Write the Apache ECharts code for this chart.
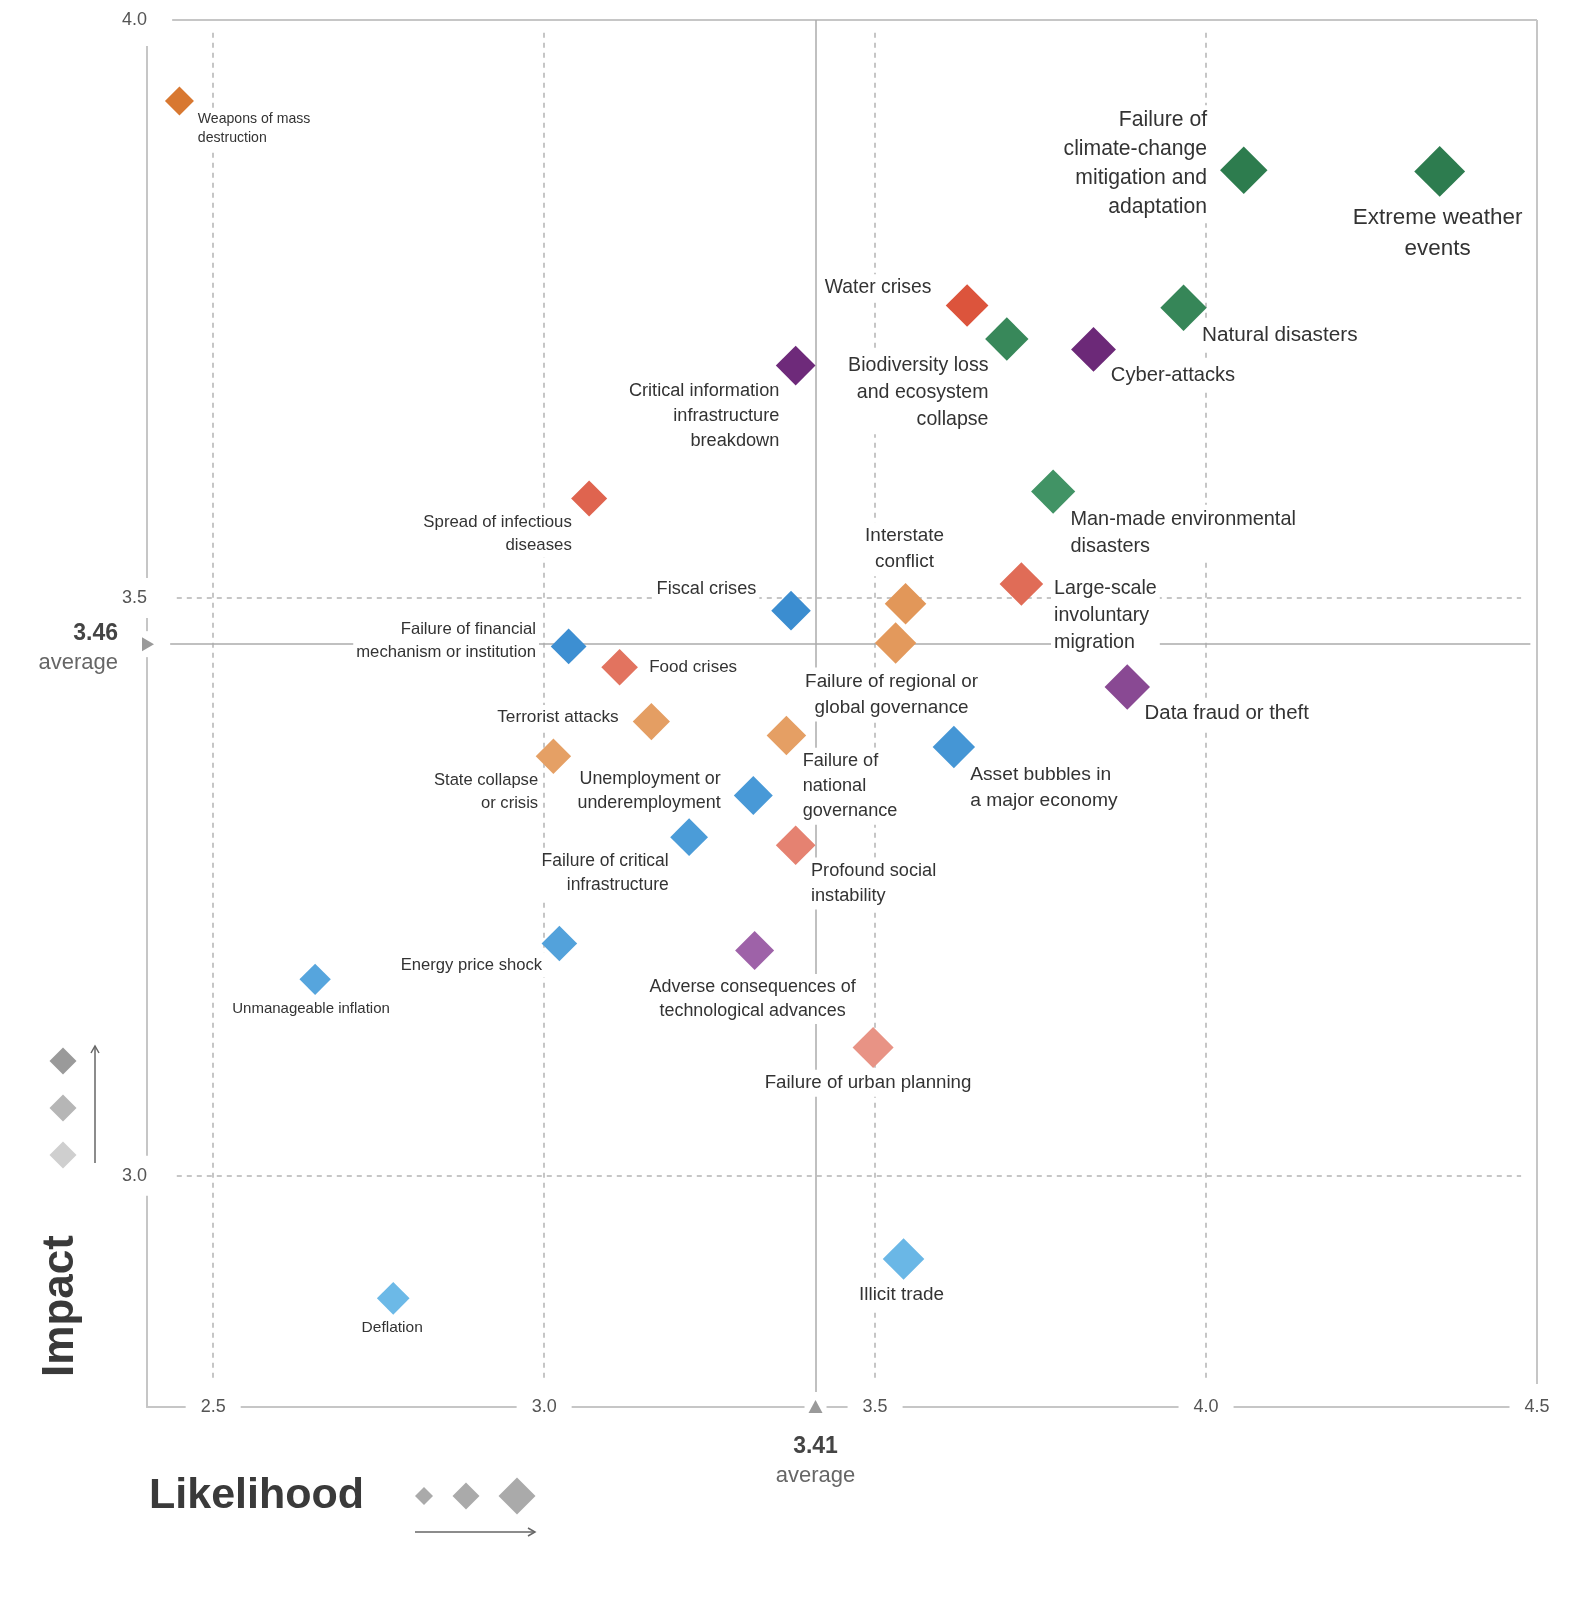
<!DOCTYPE html>
<html>
<head>
<meta charset="utf-8">
<title>Global risks landscape</title>
<script src="https://cdn.jsdelivr.net/npm/echarts@6/dist/echarts.min.js"></script>
<style>
  html, body { margin: 0; padding: 0; background: #fff; }
  #chart { width: 1584px; height: 1600px; }
</style>
</head>
<body>
<div id="chart"></div>
<script>
// risk labels, in the same order as the value arrays below
const risks = [
  'Weapons of mass\ndestruction',
  'Failure of\nclimate-change\nmitigation and\nadaptation',
  'Extreme weather\nevents',
  'Water crises',
  'Natural disasters',
  'Biodiversity loss\nand ecosystem\ncollapse',
  'Cyber-attacks',
  'Critical information\ninfrastructure\nbreakdown',
  'Man-made environmental\ndisasters',
  'Spread of infectious\ndiseases',
  'Large-scale\ninvoluntary\nmigration',
  'Interstate\nconflict',
  'Fiscal crises',
  'Failure of regional or\nglobal governance',
  'Failure of financial\nmechanism or institution',
  'Food crises',
  'Data fraud or theft',
  'Terrorist attacks',
  'Failure of\nnational\ngovernance',
  'Asset bubbles in\na major economy',
  'State collapse\nor crisis',
  'Unemployment or\nunderemployment',
  'Failure of critical\ninfrastructure',
  'Profound social\ninstability',
  'Energy price shock',
  'Adverse consequences of\ntechnological advances',
  'Unmanageable inflation',
  'Failure of urban planning',
  'Illicit trade',
  'Deflation'
];
const categories = [
  'Geopolitical', 'Environmental', 'Environmental', 'Societal', 'Environmental',
  'Environmental', 'Technological', 'Technological', 'Environmental', 'Societal',
  'Societal', 'Geopolitical', 'Economic', 'Geopolitical', 'Economic',
  'Societal', 'Technological', 'Geopolitical', 'Geopolitical', 'Economic',
  'Geopolitical', 'Economic', 'Economic', 'Societal', 'Economic',
  'Technological', 'Economic', 'Societal', 'Economic', 'Economic'
];
const likelihood = [
  2.449, 4.057, 4.353, 3.639, 3.966, 3.699, 3.830, 3.380, 3.769, 3.068,
  3.721, 3.546, 3.373, 3.531, 3.037, 3.114, 3.881, 3.162, 3.366, 3.619,
  3.014, 3.316, 3.219, 3.380, 3.023, 3.318, 2.654, 3.497, 3.543, 2.772
];
const impact = [
  3.930, 3.870, 3.869, 3.753, 3.751, 3.724, 3.715, 3.701, 3.592, 3.586,
  3.512, 3.495, 3.489, 3.461, 3.458, 3.440, 3.423, 3.393, 3.381, 3.371,
  3.363, 3.329, 3.293, 3.286, 3.201, 3.195, 3.170, 3.111, 2.928, 2.894
];
const avgLikelihood = 3.41;
const avgImpact = 3.46;
const xTicks = [2.5, 3.0, 3.5, 4.0, 4.5];
const yTicks = [3.0, 3.5, 4.0];

// where each label sits relative to its diamond: align, vertical align, dx, dy
const labelPlace = [
  ['left', 'top', 18, 8],
  ['right', 'middle', -36, -6],
  ['center', 'top', -2, 29],
  ['right', 'middle', -35, -17],
  ['left', 'middle', 18, 27],
  ['right', 'top', -18, 12],
  ['left', 'middle', 17, 26],
  ['right', 'top', -16, 12],
  ['left', 'top', 17, 13],
  ['right', 'top', -17, 11],
  ['left', 'top', 32, -10],
  ['center', 'bottom', -1, -27],
  ['right', 'middle', -34, -21],
  ['center', 'top', -4, 24],
  ['right', 'middle', -32, -5],
  ['left', 'middle', 29, 0],
  ['left', 'middle', 17, 26],
  ['right', 'middle', -32, -4],
  ['left', 'top', 16, 12],
  ['left', 'top', 16, 13],
  ['right', 'top', -15, 11],
  ['right', 'middle', -32, -4],
  ['right', 'top', -20, 11],
  ['left', 'top', 15, 12],
  ['right', 'middle', -17, 21],
  ['center', 'top', -2, 23],
  ['center', 'middle', -4, 29],
  ['center', 'middle', -5, 35],
  ['center', 'middle', -2, 35],
  ['center', 'middle', -1, 29]
];

// colour shades per category: [impact, colour] at the light and dark end
const palette = {
  Economic: [[2.9, '#6cb9e7'], [3.5, '#3a8cd0']],
  Environmental: [[3.0, '#6cc295'], [3.9, '#2b7a4c']],
  Geopolitical: [[3.0, '#edb987'], [3.95, '#d8772f']],
  Societal: [[2.9, '#eca79d'], [3.9, '#d9462b']],
  Technological: [[3.2, '#9e62a8'], [3.72, '#6c2878']]
};
const FONT = '"Liberation Sans", Arial, sans-serif';
const PAD_X = 3;

function hex2rgb(h) {
  return [1, 3, 5].map(i => parseInt(h.substr(i, 2), 16));
}
function riskColor(cat, imp) {
  const [[i0, c0], [i1, c1]] = palette[cat];
  let t = (imp - i0) / (i1 - i0);
  t = Math.max(0, Math.min(1, t));
  const a = hex2rgb(c0), b = hex2rgb(c1);
  return 'rgb(' + a.map((v, k) => Math.round(v + (b[k] - v) * t)).join(',') + ')';
}
const symSize = x => 29 + (x - 2.45) * 11.5;
const labelSize = x => (13.5 + (x - 2.45) * 4.2) * 1.045;

const points = risks.map((name, i) => {
  const [align, vAlign, dx, dy] = labelPlace[i];
  const fs = labelSize(likelihood[i]);
  // pull the box back so the text itself, not its padding, lands at dx
  const shift = align === 'left' ? -PAD_X : (align === 'right' ? PAD_X : 0);
  return {
    name: name,
    value: [likelihood[i], impact[i]],
    itemStyle: { color: riskColor(categories[i], impact[i]) },
    label: {
      position: ['50%', '50%'],
      align: align,
      verticalAlign: vAlign,
      offset: [dx * 1.02 + shift, dy * 1.02],
      fontSize: fs,
      lineHeight: Math.round(fs * 1.36)
    }
  };
});

const gridColor = '#c6c6c6';
const dashed = { color: gridColor, width: 2, type: [5, 5] };
const solid = { color: gridColor, width: 2, type: 'solid' };
const avgStyle = { color: '#ababab', width: 1.5, type: 'solid' };

const guideLines = [];
xTicks.slice(0, 4).forEach(v => guideLines.push([{ coord: [v, 3.989], lineStyle: dashed }, { coord: [v, 2.821] }]));
[3.0, 3.5].forEach(v => guideLines.push([{ coord: [2.445, v], lineStyle: dashed }, { coord: [4.476, v] }]));
guideLines.push([{ coord: [2.438, 4.0], lineStyle: solid }, { coord: [4.5, 4.0] }]);
guideLines.push([{ coord: [4.5, 4.0], lineStyle: solid }, { coord: [4.5, 2.82] }]);
guideLines.push([{ coord: [2.435, avgImpact], lineStyle: avgStyle }, { coord: [4.49, avgImpact] }]);
guideLines.push([{ coord: [avgLikelihood, 4.0], lineStyle: avgStyle }, { coord: [avgLikelihood, 2.813] }]);

const chart = echarts.init(document.getElementById('chart'));
const option = {
  animation: false,
  textStyle: { fontFamily: FONT },
  grid: { left: 147, right: 47, top: 20, bottom: 193 },
  xAxis: {
    type: 'value', min: 2.4, max: 4.5,
    axisLine: { lineStyle: { color: gridColor, width: 2 } },
    axisTick: { show: false },
    splitLine: { show: false },
    axisLabel: {
      customValues: xTicks,
      formatter: v => v.toFixed(1),
      margin: 0, verticalAlign: 'middle',
      color: '#555', fontSize: 18, fontFamily: FONT,
      backgroundColor: '#fff', padding: [5, 15]
    }
  },
  yAxis: {
    type: 'value', min: 2.8, max: 4.0,
    axisLine: { show: true, lineStyle: { color: gridColor, width: 2 } },
    axisTick: { show: false },
    splitLine: { show: false },
    axisLabel: {
      customValues: yTicks,
      formatter: v => v.toFixed(1),
      margin: -3, align: 'right', verticalAlign: 'middle',
      color: '#555', fontSize: 18, fontFamily: FONT,
      backgroundColor: '#fff', padding: [11, 3, 11, 6]
    }
  },
  series: [
    {
      type: 'line', data: [], z: 1, silent: true,
      markLine: { z: 1, silent: true, symbol: 'none', label: { show: false }, animation: false, data: guideLines }
    },
    {
      type: 'scatter', z: 3, symbol: 'diamond', silent: true,
      symbolSize: v => symSize(v[0]),
      data: points,
      itemStyle: { opacity: 1 },
      label: {
        show: true, formatter: '{b}', color: '#333', fontFamily: FONT,
        backgroundColor: '#fff', padding: [1, PAD_X]
      },
      emphasis: { disabled: true }
    }
  ]
};
chart.setOption(option);

// average markers, legend keys and axis titles
const pAvg = chart.convertToPixel({ gridIndex: 0 }, [avgLikelihood, avgImpact]);
const corner = chart.convertToPixel({ gridIndex: 0 }, [2.4, 2.8]);
const ax = corner[0], by = corner[1];

function diamond(cx, cy, s, fill) {
  const h = s / 2;
  return { type: 'polygon', z: 10, shape: { points: [[cx, cy - h], [cx + h, cy], [cx, cy + h], [cx - h, cy]] }, style: { fill: fill } };
}
function txt(x, y, text, font, fill, align, vAlign, rot) {
  return {
    type: 'text', z: 10, x: x, y: y, rotation: rot || 0,
    style: { text: text, font: font, fill: fill, textAlign: align, textVerticalAlign: vAlign }
  };
}
const lineCol = '#666';
const graphics = [
  // gap in the impact axis just under the 4.0 label
  { type: 'rect', z: 5, shape: { x: ax - 4, y: 31, width: 8, height: 15 }, style: { fill: '#fff' } },
  // average on impact axis
  { type: 'rect', z: 9, shape: { x: ax - 8, y: pAvg[1] - 13, width: 16, height: 26 }, style: { fill: '#fff' } },
  { type: 'polygon', z: 10, shape: { points: [[ax - 5, pAvg[1] - 7], [ax + 7, pAvg[1]], [ax - 5, pAvg[1] + 7]] }, style: { fill: '#9a9a9a' } },
  txt(118, pAvg[1] - 10, '3.46', 'bold 23px ' + FONT, '#444', 'right', 'middle'),
  txt(118, pAvg[1] + 19, 'average', '22px ' + FONT, '#666', 'right', 'middle'),
  // average on likelihood axis
  { type: 'rect', z: 9, shape: { x: pAvg[0] - 11, y: by - 8, width: 22, height: 16 }, style: { fill: '#fff' } },
  { type: 'polygon', z: 10, shape: { points: [[pAvg[0] - 7, by + 6], [pAvg[0], by - 7], [pAvg[0] + 7, by + 6]] }, style: { fill: '#9a9a9a' } },
  txt(pAvg[0], by + 40, '3.41', 'bold 23px ' + FONT, '#444', 'center', 'middle'),
  txt(pAvg[0], by + 69, 'average', '22px ' + FONT, '#666', 'center', 'middle'),
  // impact key
  txt(61, 1306, 'Impact', 'bold 44px ' + FONT, '#3a3a3a', 'center', 'middle', Math.PI / 2),
  diamond(63, 1061, 27, '#9a9a9a'),
  diamond(63, 1108, 27, '#b6b6b6'),
  diamond(63, 1155, 27, '#cfcfcf'),
  { type: 'polyline', z: 10, shape: { points: [[95, 1163], [95, 1046]] }, style: { stroke: lineCol, lineWidth: 1.5 } },
  { type: 'polyline', z: 10, shape: { points: [[91, 1053], [95, 1046], [99, 1053]] }, style: { stroke: lineCol, lineWidth: 1.5, fill: null } },
  // likelihood key
  txt(149, 1496, 'Likelihood', 'bold 43px ' + FONT, '#3a3a3a', 'left', 'middle'),
  diamond(424, 1496, 18, '#aaaaaa'),
  diamond(466, 1496, 27, '#aaaaaa'),
  diamond(517, 1496, 37, '#aaaaaa'),
  { type: 'polyline', z: 10, shape: { points: [[415, 1532], [535, 1532]] }, style: { stroke: lineCol, lineWidth: 1.5 } },
  { type: 'polyline', z: 10, shape: { points: [[528, 1528], [535, 1532], [528, 1536]] }, style: { stroke: lineCol, lineWidth: 1.5, fill: null } }
];
chart.setOption({ graphic: graphics });
</script>
</body>
</html>
